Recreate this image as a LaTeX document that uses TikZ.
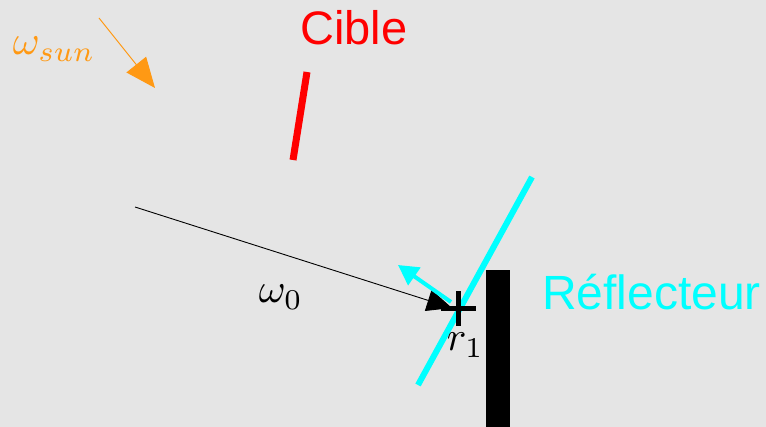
\documentclass[tikz,border=0pt]{standalone}
\usepackage{fontspec}
\setmainfont{Liberation Sans}
\usetikzlibrary{arrows.meta}
\definecolor{bg}{RGB}{229,229,229}
\definecolor{sunorange}{RGB}{255,153,20}
\definecolor{refcyan}{RGB}{0,255,255}
\tikzset{
  bigtext/.style={inner sep=0pt, font=\fontsize{47}{52}\selectfont},
  mathlabel/.style={inner sep=0pt, font=\fontsize{10}{12}\selectfont, scale=4.1, transform shape=false},
}
\begin{document}
\begin{tikzpicture}[x=1pt,y=-1pt]
\fill[bg] (0,0) rectangle (766,427);
\useasboundingbox (0,0) rectangle (766,427);
% sun direction
\coordinate (sunA) at (99,18);
\coordinate (sunB) at (155,88);
\draw[sunorange, line width=1pt, -{Triangle[length=30pt,width=25pt]}] (sunA) -- (sunB);
\node[mathlabel, anchor=base west, text=sunorange] (wsun) at (12,55) {$\omega_{sun}$};
% target
\coordinate (tA) at (307,72);
\coordinate (tB) at (293,160);
\draw[red, line width=7pt] (tA) -- (tB);
\node[bigtext, anchor=base west, text=red] (cible) at (300,45) {Cible};
% reflector
\coordinate (rA) at (532,177);
\coordinate (rB) at (418,385);
\draw[refcyan, line width=6pt] (rA) -- (rB);
\fill[black] (486,270) rectangle (510,427);
\node[bigtext, font=\fontsize{48}{52}\selectfont, anchor=base west, text=refcyan] (refl) at (542,310) {Réflecteur};
% ray
\coordinate (o) at (135,207);
\coordinate (r1) at (458,309);
\draw[black, line width=0.9pt, -{Triangle[length=25pt,width=22pt]}] (o) -- (452,308);
\node[mathlabel, anchor=base west] (w0) at (258,303) {$\omega_0$};
% normal
\coordinate (nA) at (451,302);
\coordinate (nB) at (398,265);
\draw[refcyan, line width=4pt, -{Triangle[length=20pt,width=21pt]}] (nA) -- (nB);
% plus mark
\draw[black, line width=5pt] ([xshift=-17pt]r1) -- ([xshift=18pt]r1);
\draw[black, line width=5pt] ([yshift=-17pt]r1) -- ([yshift=18pt]r1);
\node[mathlabel, anchor=base west] (r1lab) at (446,351) {$r_1$};
\end{tikzpicture}
\end{document}
